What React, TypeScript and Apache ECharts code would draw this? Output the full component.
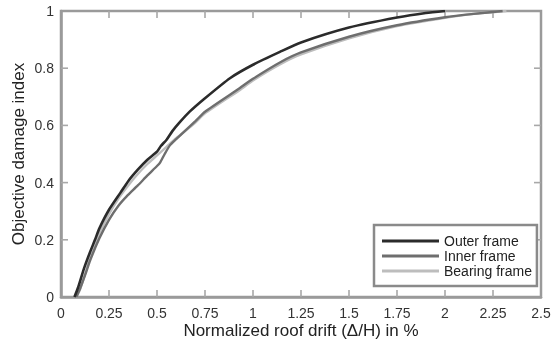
import React, { useEffect, useRef } from "react";
import * as echarts from "echarts";

const seriesNames = ["Outer frame", "Inner frame", "Bearing frame"];
const seriesColors = ["#2b2b2b", "#6e6e6e", "#bdbdbd"];
const seriesWidths = [2.6, 2.4, 2.4];

const outerFrame: [number, number][] = [
  [0.07, 0], [0.09, 0.035], [0.12, 0.1], [0.15, 0.155], [0.177, 0.2], [0.2, 0.24],
  [0.25, 0.305], [0.31, 0.365], [0.35, 0.405], [0.4, 0.445], [0.45, 0.48],
  [0.5, 0.508], [0.52, 0.528], [0.55, 0.55], [0.58, 0.58], [0.62, 0.612],
  [0.67, 0.648], [0.75, 0.695], [0.88, 0.765], [1.0, 0.812], [1.14, 0.857],
  [1.25, 0.89], [1.5, 0.942], [1.75, 0.977], [1.9, 0.993], [2.0, 1.0],
];
const innerFrame: [number, number][] = [
  [0.08, 0], [0.1, 0.03], [0.13, 0.085], [0.15, 0.125], [0.2, 0.205], [0.25, 0.27],
  [0.3, 0.32], [0.342, 0.352], [0.4, 0.39], [0.45, 0.425], [0.5, 0.458],
  [0.516, 0.47], [0.54, 0.5], [0.568, 0.531], [0.6, 0.552], [0.7, 0.615],
  [0.75, 0.648], [0.93, 0.73], [1.0, 0.763], [1.14, 0.82], [1.25, 0.855],
  [1.5, 0.91], [1.75, 0.95], [2.0, 0.978], [2.15, 0.99], [2.3, 1.0],
];
const bearingFrame: [number, number][] = [
  [0.08, 0], [0.1, 0.028], [0.13, 0.09], [0.15, 0.135], [0.2, 0.22], [0.25, 0.29],
  [0.3, 0.345], [0.35, 0.39], [0.4, 0.43], [0.45, 0.465], [0.5, 0.495],
  [0.55, 0.525], [0.6, 0.555], [0.7, 0.61], [0.75, 0.642], [0.93, 0.723],
  [1.0, 0.757], [1.14, 0.813], [1.25, 0.848], [1.5, 0.904], [1.75, 0.947],
  [2.0, 0.976], [2.15, 0.99], [2.32, 1.0],
];
const seriesData = [outerFrame, innerFrame, bearingFrame];

const xTickValues = [0.25, 0.5, 0.75, 1, 1.25, 1.5, 1.75, 2, 2.25];
const yTickValues = [0.2, 0.4, 0.6, 0.8];
const X_MIN = 0, X_MAX = 2.5, Y_MIN = 0, Y_MAX = 1;

const xTitle = "Normalized roof drift (\u0394/H) in %";
const yTitle = "Objective damage index";

const FONT = "Liberation Sans, Arial, sans-serif";
const TICK_LEN = 7;
const TICK_COLOR = "#a8a8a8";

const mkLine = () => ({ show: true, onZero: false, lineStyle: { color: "#9a9a9a", width: 2.5 } });
const mkLabel = (margin: number) => ({ show: true, color: "#333", fontSize: 14, fontFamily: FONT, margin });

// tick data: [value, kind] where kind 0 = x tick, 1 = y tick
const tickData = [
  ...xTickValues.map((v) => [v, 0]),
  ...yTickValues.map((v) => [v, 1]),
];

export default function App() {
  const ref = useRef<HTMLDivElement>(null);
  useEffect(() => {
    if (!ref.current) return;
    const chart = echarts.init(ref.current, null, { renderer: "svg" });
    const tickStyle = { stroke: TICK_COLOR, lineWidth: 1.6 };
    chart.setOption({
      animation: false,
      grid: {
        left: 61, right: 10, top: 11, bottom: 43, outerBoundsMode: "none",
        show: true, borderColor: "#9a9a9a", borderWidth: 2.5, backgroundColor: "transparent",
      },
      legend: {
        data: seriesNames,
        orient: "vertical",
        left: 374,
        top: 225,
        width: 165,
        icon: "rect",
        itemWidth: 57,
        itemHeight: 3,
        itemGap: 1,
        padding: [9, 5, 8, 8],
        backgroundColor: "#fff",
        borderColor: "#8a8a8a",
        borderWidth: 2.5,
        textStyle: { color: "#222", fontSize: 14, fontFamily: FONT },
      },
      xAxis: {
        type: "value", min: X_MIN, max: X_MAX, interval: 0.25,
        axisLine: mkLine(), axisTick: { show: false }, splitLine: { show: false },
        axisLabel: mkLabel(9),
        name: xTitle, nameLocation: "middle", nameGap: 25, nameMoveOverlap: false,
        nameTextStyle: { color: "#222", fontSize: 17, fontFamily: FONT },
      },
      yAxis: {
        type: "value", min: Y_MIN, max: Y_MAX, interval: 0.2,
        axisLine: mkLine(), axisTick: { show: false }, splitLine: { show: false },
        axisLabel: mkLabel(7),
        name: yTitle, nameLocation: "middle", nameGap: 34, nameMoveOverlap: false,
        nameTextStyle: { color: "#222", fontSize: 17, fontFamily: FONT },
      },
      series: [
        {
          name: "_ticks",
          type: "custom",
          silent: true,
          clip: false,
          z: 1,
          data: tickData,
          renderItem: (_params: any, api: any) => {
            const v = api.value(0);
            const kind = api.value(1);
            if (kind === 0) {
              const b = api.coord([v, Y_MIN]);
              const t = api.coord([v, Y_MAX]);
              return {
                type: "group",
                children: [
                  { type: "line", shape: { x1: b[0], y1: b[1], x2: b[0], y2: b[1] - TICK_LEN }, style: tickStyle },
                  { type: "line", shape: { x1: t[0], y1: t[1], x2: t[0], y2: t[1] + TICK_LEN }, style: tickStyle },
                ],
              };
            }
            const l = api.coord([X_MIN, v]);
            const r = api.coord([X_MAX, v]);
            return {
              type: "group",
              children: [
                { type: "line", shape: { x1: l[0], y1: l[1], x2: l[0] + TICK_LEN, y2: l[1] }, style: tickStyle },
                { type: "line", shape: { x1: r[0], y1: r[1], x2: r[0] - TICK_LEN, y2: r[1] }, style: tickStyle },
              ],
            };
          },
        },
        ...seriesNames.map((name, i) => ({
          name,
          type: "line",
          data: seriesData[i],
          showSymbol: false,
          smooth: 0.2,
          z: 5 - i,
          lineStyle: { color: seriesColors[i], width: seriesWidths[i] },
          itemStyle: { color: seriesColors[i] },
        })),
      ],
    });
    return () => chart.dispose();
  }, []);
  return (
    <div
      ref={ref}
      style={{ position: "fixed", left: 0, top: 0, width: 551, height: 340 }}
    />
  );
}
